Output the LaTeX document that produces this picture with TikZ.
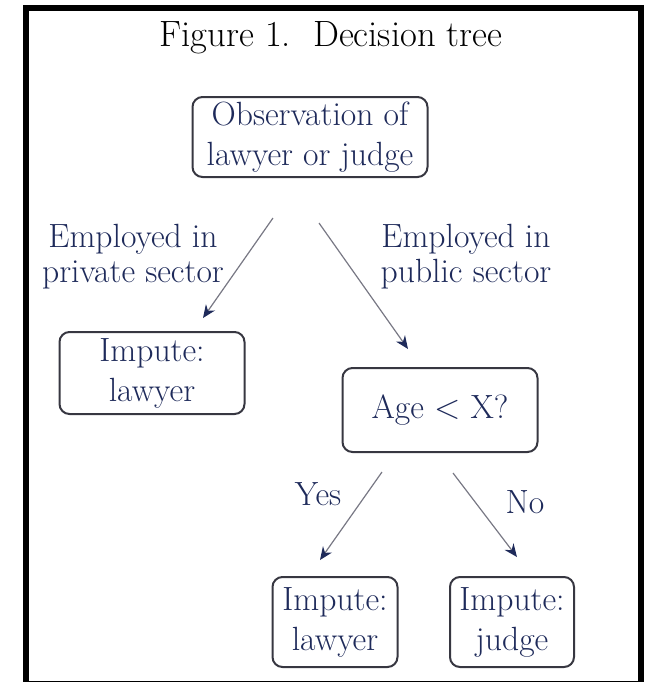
\documentclass[tikz,border=0pt]{standalone}
\usetikzlibrary{arrows.meta}
\definecolor{navy}{RGB}{30,42,90}
\definecolor{boxgray}{RGB}{55,55,65}
\definecolor{linegray}{RGB}{120,120,132}
\tikzset{
  box/.style={draw=boxgray, line width=1pt, rounded corners=5pt, align=center,
    text=navy, inner sep=0pt},
  lbl/.style={align=center, text=navy, font=\fontsize{16.8}{17.5}\selectfont},
  arr/.style={draw=linegray, line width=0.6pt,
    -{Stealth[length=6.5pt, width=5.5pt, color=navy]}},
}
\begin{document}
\begin{tikzpicture}[x=0.5pt, y=-0.5pt, font=\fontsize{16.8}{20}\selectfont]
    \useasboundingbox (0,0) rectangle (654,682);

    % Outer frame
    \draw[line width=3pt] (26,8) rectangle (641,684);

    % Title
    \node[font=\fontsize{18.3}{22}\selectfont] (title) at (331,38) {Figure 1.\ \ Decision tree};

    % Boxes
    \node[box, minimum width=117.5pt, minimum height=40pt] (obs) at (310,137) {Observation of\\lawyer or judge};
    \node[box, minimum width=92.5pt, minimum height=41pt] (lawyerA) at (152,373) {Impute:\\lawyer};
    \node[box, minimum width=97.5pt, minimum height=42pt] (age) at (440,410) {Age $<$ X?};
    \node[box, minimum width=62.5pt, minimum height=45pt] (lawyerB) at (335,622) {Impute:\\lawyer};
    \node[box, minimum width=62pt, minimum height=45pt] (judge) at (512,622) {Impute:\\judge};

    % Branch labels
    \node[lbl] (priv) at (133,257) {Employed in\\private sector};
    \node[lbl] (pub) at (466,257) {Employed in\\public sector};
    \node[lbl] (yes) at (318,494) {Yes};
    \node[lbl] (no) at (525,502) {No};

    % Arrow end points
    \coordinate (privS) at (273,218);
    \coordinate (privE) at (203,318);
    \coordinate (pubS) at (319,223);
    \coordinate (pubE) at (408,349);
    \coordinate (yesS) at (382,472);
    \coordinate (yesE) at (320,560);
    \coordinate (noS) at (453,473);
    \coordinate (noE) at (517,557);

    % Arrows
    \draw[arr] (privS) -- (privE);
    \draw[arr] (pubS) -- (pubE);
    \draw[arr] (yesS) -- (yesE);
    \draw[arr] (noS) -- (noE);
\end{tikzpicture}
\end{document}
